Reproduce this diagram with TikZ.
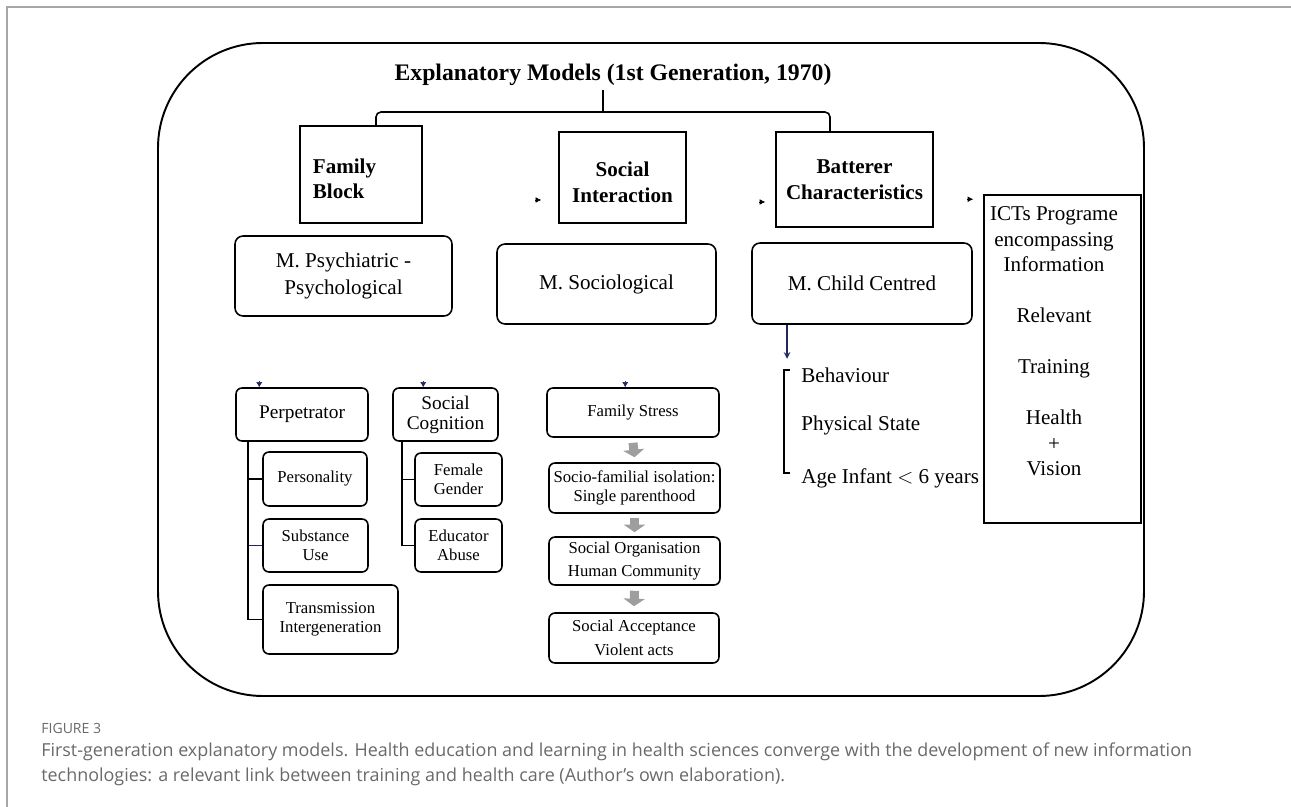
\documentclass[tikz,border=0pt]{standalone}
\usepackage{fontspec}
\setmainfont{Liberation Serif}
\newfontfamily\captionsans{Open Sans}
\usepackage{xcolor}
\usetikzlibrary{positioning, arrows.meta, calc}

\definecolor{navyblue}{RGB}{30,40,95}
\definecolor{captiongray}{RGB}{105,105,105}

\begin{document}
\begin{tikzpicture}[
    x=0.02cm, y=-0.02cm,
    >=stealth,
    titlenode/.style={inner sep=2pt, font=\fontsize{13.5}{16}\selectfont\bfseries},
    headbox/.style={draw, line width=0.9pt, align=center, inner sep=0pt, font=\fontsize{12}{14.5}\selectfont\bfseries},
    modelbox/.style={draw, line width=0.9pt, rounded corners=0.16cm, align=center, inner sep=0pt, font=\fontsize{12}{15.3}\selectfont},
    smallbox/.style={draw, line width=0.9pt, rounded corners=0.12cm, align=center, inner sep=0pt, font=\fontsize{9.5}{11}\selectfont},
    midbox/.style={smallbox, font=\fontsize{11}{11.5}\selectfont},
    listitem/.style={anchor=west, inner sep=0pt, font=\fontsize{12}{14.5}\selectfont},
    treeline/.style={line width=1pt},
    brace/.style={line width=0.9pt, rounded corners=0.1cm},
    stubright/.style={-{Latex[length=0.11cm, width=0.11cm]}, line width=0.3pt},
    stubdown/.style={-{Latex[length=0.1cm, width=0.12cm]}, line width=0.3pt, navyblue},
    flowarrow/.style={line width=0.18cm, draw=black!38, -{Triangle[length=0.15cm, width=0.42cm]}},
    captiontext/.style={anchor=west, inner sep=0pt, text=captiongray, font=\captionsans\fontsize{10.2}{12}\selectfont}
]
\useasboundingbox (0,0) rectangle (1291,807);

% Page frame and outer rounded box
\draw[black!35, line width=0.6pt] (7,807) -- (7,7) -- (1291,7);
\draw[line width=1.1pt, rounded corners=2.1cm] (158,43) rectangle (1144,696);

% Title
\node[titlenode] (title) at (613,75) {Explanatory Models (1st Generation, 1970)};

% Top level blocks
\node[headbox, minimum width=2.44cm, minimum height=1.94cm] (fam) at (361,174.5)
  {\hspace*{-0.66cm}\raisebox{-0.13cm}[\height][\depth]{\begin{tabular}{@{}l@{}}Family\\Block\end{tabular}}};
\node[headbox, minimum width=2.54cm, minimum height=1.82cm] (social) at (622.5,177.5)
  {\raisebox{-0.14cm}[\height][\depth]{\begin{tabular}{@{}c@{}}Social\\Interaction\end{tabular}}};
\node[headbox, minimum width=3.14cm, minimum height=1.90cm] (batterer) at (854.5,179.5) {Batterer\\Characteristics};

% ICTs box
\node[draw, line width=0.9pt, minimum width=3.14cm, minimum height=6.56cm] (ict) at (1062.5,359) {};
\node[listitem, anchor=center, align=center] (icttext) at (1054,341.5) {ICTs Programe\\encompassing\\Information\\[14.5pt]Relevant\\[14.5pt]Training\\[14.5pt]Health\\+\\Vision};

% Model boxes
\node[modelbox, minimum width=4.34cm, minimum height=1.60cm] (psych) at (343.5,276) {M. Psychiatric -\\Psychological};
\node[modelbox, minimum width=4.38cm, minimum height=1.60cm] (socio) at (606.5,284) {M. Sociological};
\node[modelbox, minimum width=4.40cm, minimum height=1.62cm] (child) at (862,283.5) {M. Child Centred};

% Connector from title
\coordinate (hub) at (603,112);
\draw[brace] (title.south -| hub) -- (hub);
\draw[brace] (hub) -| ([xshift=0.3cm]fam.north);
\draw[brace] (hub) -| ([xshift=-0.49cm]batterer.north);

% Stray arrow tips before the blocks
\draw[stubright] ([xshift=-0.46cm,yshift=-0.45cm]social.west) -- ([xshift=-0.34cm,yshift=-0.45cm]social.west);
\draw[stubright] ([xshift=-0.32cm,yshift=-0.45cm]batterer.west) -- ([xshift=-0.2cm,yshift=-0.45cm]batterer.west);
\draw[stubright] ([xshift=-0.32cm,yshift=-0.1cm]ict.north west) -- ([xshift=-0.2cm,yshift=-0.1cm]ict.north west);

% Child centred list
\draw[->, navyblue, line width=0.7pt] ([xshift=-1.5cm]child.south) -- ([xshift=-1.5cm,yshift=-0.68cm]child.south);
\node[listitem] (behav) at (801,375) {Behaviour};
\node[listitem] (phys) at (801,425) {Physical State};
\node[listitem] (age) at (801,478) {Age Infant $<$ 6 years};
\draw[treeline] ([xshift=-0.22cm,yshift=0.1cm]behav.west) -- ++(-0.12cm,0) |- ([xshift=-0.22cm,yshift=0.1cm]age.west);

% Perpetrator branch
\node[midbox, minimum width=2.64cm, minimum height=1.06cm] (perp) at (302,414.5) {Perpetrator};
\node[smallbox, minimum width=2.08cm, minimum height=1.08cm] (pers) at (315,479) {Personality};
\node[smallbox, minimum width=2.10cm, minimum height=1.06cm] (subst) at (315.5,545.5) {Substance\\Use};
\node[smallbox, minimum width=2.70cm, minimum height=1.38cm] (trans) at (330.5,619.5) {Transmission\\Intergeneration};
\draw[treeline] ([xshift=0.26cm]perp.south west) |- (pers.west);
\draw[navyblue, line width=0.5pt] ([xshift=0.26cm]perp.south west) |- (subst.west);
\draw[treeline] ([xshift=0.26cm]perp.south west) |- (trans.west);

% Social cognition branch
\node[midbox, minimum width=2.10cm, minimum height=1.06cm] (cog) at (445.5,414.5) {Social\\Cognition};
\node[smallbox, minimum width=1.74cm, minimum height=1.06cm] (fem) at (458.5,479.5) {Female\\Gender};
\node[smallbox, minimum width=1.74cm, minimum height=1.06cm] (edu) at (458.5,545.5) {Educator\\Abuse};
\draw[treeline] ([xshift=0.2cm]cog.south west) |- (fem.west);
\draw[treeline] ([xshift=0.2cm]cog.south west) |- (edu.west);

% Sociological chain
\node[smallbox, minimum width=3.44cm, minimum height=0.98cm] (fstress) at (633,412.5) {Family Stress};
\node[smallbox, minimum width=3.42cm, minimum height=1.00cm] (iso) at (634.5,488) {Socio-familial isolation:\\Single parenthood};
\node[smallbox, minimum width=3.42cm, minimum height=0.96cm, font=\fontsize{9.5}{13.6}\selectfont] (org) at (634.5,561) {Social Organisation\\Human Community};
\node[smallbox, minimum width=3.40cm, minimum height=1.00cm, font=\fontsize{9.5}{13.6}\selectfont] (accept) at (634,638) {Social Acceptance\\Violent acts};
\draw[flowarrow] ([yshift=-0.1cm]fstress.south) -- ([yshift=0.1cm]iso.north);
\draw[flowarrow] ([yshift=-0.08cm]iso.south) -- ([yshift=0.08cm]org.north);
\draw[flowarrow] ([yshift=-0.1cm]org.south) -- ([yshift=0.12cm]accept.north);

% Arrow tips on top of the lower boxes
\draw[stubdown] ([xshift=0.48cm,yshift=0.12cm]perp.north west) -- ([xshift=0.48cm]perp.north west);
\draw[stubdown] ([xshift=0.62cm,yshift=0.12cm]cog.north west) -- ([xshift=0.62cm]cog.north west);
\draw[stubdown] ([xshift=1.58cm,yshift=0.12cm]fstress.north west) -- ([xshift=1.58cm]fstress.north west);

% Caption
\node[captiontext, font=\captionsans\fontsize{8}{10}\selectfont] (figlabel) at (41,728) {FIGURE 3};
\node[captiontext] (cap1) at (41,752) {First-generation explanatory models. Health education and learning in health sciences converge with the development of new information};
\node[captiontext] (cap2) at (41,777) {technologies: a relevant link between training and health care (Author’s own elaboration).};

\end{tikzpicture}
\end{document}
